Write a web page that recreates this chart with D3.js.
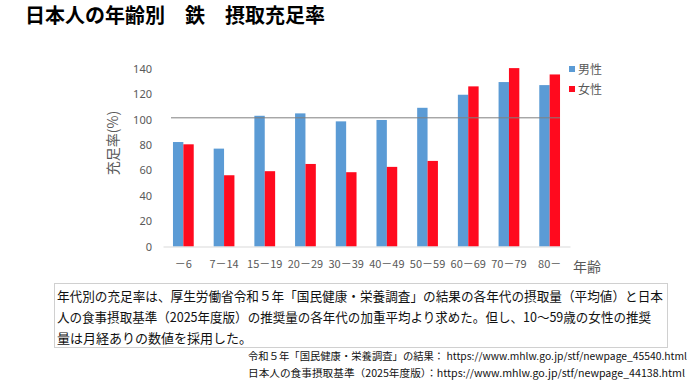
<!DOCTYPE html>
<html><head><meta charset="utf-8">
<script src="https://cdn.jsdelivr.net/npm/d3@7/dist/d3.min.js"></script>
<style>
html,body{margin:0;padding:0;background:#fff;}
svg{display:block;font-family:"Noto Sans CJK JP","Noto Sans",sans-serif;}
</style></head>
<body>
<svg id="c" width="700" height="392"></svg>
<script>
const categories = ["－6","7－14","15－19","20－29","30－39","40－49","50－59","60－69","70－79","80－"];
const maleValues = [82.4,77.2,103.1,105,98.7,99.8,109.4,119.7,129.7,127.3];
const femaleValues = [80.6,56.2,59.4,65.1,58.6,62.8,67.5,126.3,140.7,135.7];
const seriesNames = ["男性","女性"];
const yTicks = [0,20,40,60,80,100,120,140];
const refValue = 101.5;
const title = "日本人の年齢別　鉄　摂取充足率";
const yTitle = "充足率(%)";
const xTitle = "年齢";
const noteLines = [
 "年代別の充足率は、厚生労働省令和５年「国民健康・栄養調査」の結果の各年代の摂取量（平均値）と日本",
 "人の食事摂取基準（2025年度版）の推奨量の各年代の加重平均より求めた。但し、10〜59歳の女性の推奨",
 "量は月経ありの数値を採用した。"
];
const sourceLines = [
 "令和５年「国民健康・栄養調査」の結果： https://www.mhlw.go.jp/stf/newpage_45540.html",
 "日本人の食事摂取基準（2025年度版）：https://www.mhlw.go.jp/stf/newpage_44138.html"
];

const colors = ["#5B9BD5","#FF0A1E"];
const svg = d3.select("#c");
const gray = "#595959";

svg.append("text").attr("x",25).attr("y",23).attr("font-size",20).attr("font-weight","bold")
  .attr("fill","#000").text(title);

const x = d3.scaleBand().domain(categories).range([163,570]).paddingInner(0.49).paddingOuter(0.245);
const y = d3.scaleLinear().domain([0,140]).range([246.5,69]);
const xs = d3.scaleBand().domain(seriesNames).range([0,x.bandwidth()]);

// y axis labels
const yAxis = d3.axisLeft(y).tickValues(yTicks).tickSize(0).tickPadding(0);
const gy = svg.append("g").attr("transform","translate(152,0)").call(yAxis);
gy.select(".domain").remove();
gy.selectAll("text").attr("fill",gray).attr("font-size",11).attr("font-family","Noto Sans, sans-serif");

// bars
const data = categories.map((c,i)=>({c, vals:[maleValues[i],femaleValues[i]]}));
const groups = svg.append("g").selectAll("g").data(data).join("g")
  .attr("transform",d=>`translate(${x(d.c)},0)`);
groups.selectAll("rect").data(d=>d.vals.map((v,j)=>({v,s:seriesNames[j],j}))).join("rect")
  .attr("x",d=>xs(d.s)).attr("width",xs.bandwidth())
  .attr("y",d=>y(d.v)).attr("height",d=>y(0)-y(d.v))
  .attr("fill",d=>colors[d.j]);

// baseline
const xAxis = d3.axisBottom(x).tickSize(0).tickPadding(14);
const gx = svg.append("g").attr("transform",`translate(0,${y(0)})`).call(xAxis);
gx.select(".domain").attr("stroke","#d9d9d9").attr("stroke-width",1);
gx.selectAll("text").attr("fill",gray).attr("font-size",11).attr("font-family","Noto Sans CJK JP, sans-serif");

// reference line
svg.append("line").attr("x1",171).attr("x2",560).attr("y1",y(refValue)).attr("y2",y(refValue))
  .attr("stroke","#7f7f7f").attr("stroke-width",1);

// axis titles
svg.append("text").attr("transform",`translate(118,143) rotate(-90)`).attr("text-anchor","middle")
  .attr("font-size",14).attr("fill",gray).text(yTitle);
svg.append("text").attr("x",573).attr("y",272).attr("font-size",14).attr("fill",gray).text(xTitle);

// legend
const lg = svg.append("g").selectAll("g").data(seriesNames).join("g")
  .attr("transform",(d,i)=>`translate(569,${69+i*20})`);
lg.append("rect").attr("x",0).attr("y",-3).attr("width",6).attr("height",6).attr("fill",(d,i)=>colors[i]);
lg.append("text").attr("x",9).attr("y",4.5).attr("font-size",12).attr("fill",gray).text(d=>d);

// note box
svg.append("rect").attr("x",54.5).attr("y",283.5).attr("width",613).attr("height",64)
  .attr("fill","none").attr("stroke","#d0d0d0").attr("stroke-width",1);
const noteY=[301,322,343];
const noteW=[606,594,null];
noteLines.forEach((t,i)=>{
  const tx = svg.append("text").attr("x",57).attr("y",noteY[i]).attr("font-size",13).attr("fill","#111").text(t);
  if(noteW[i]) tx.attr("textLength",noteW[i]).attr("lengthAdjust","spacingAndGlyphs");
});
const srcY=[360,377];
const srcW=[439,437];
sourceLines.forEach((t,i)=>{
  svg.append("text").attr("x",248).attr("y",srcY[i]).attr("font-size",10).attr("fill","#111")
    .attr("textLength",srcW[i]).attr("lengthAdjust","spacingAndGlyphs").text(t);
});
</script>
</body></html>
